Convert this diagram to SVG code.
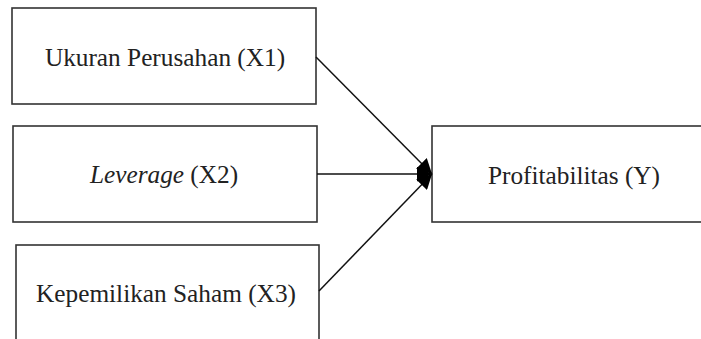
<svg xmlns="http://www.w3.org/2000/svg" width="701" height="339" viewBox="0 0 701 339">
<style>
.box{fill:#fff;stroke:#333;stroke-width:1.6}
.t{font-size:25.3px;fill:#222;text-anchor:middle}
.c{stroke:#111;stroke-width:1.5;fill:none}
</style>
<defs>
<marker id="ah" viewBox="0 0 10 10" refX="10" refY="5" markerWidth="15" markerHeight="15" markerUnits="userSpaceOnUse" orient="auto">
<path d="M0,0 L10,5 L0,10 Z" fill="#000"/>
</marker>
</defs>
<rect width="701" height="339" fill="#fff"/>
<g font-family="Liberation Serif, Times New Roman, serif">
<g id="x1"><rect class="box" x="12" y="8" width="304" height="96"/><text class="t" x="165" y="66">Ukuran Perusahan (X1)</text></g>
<g id="x2"><rect class="box" x="13" y="126" width="304" height="96"/><text class="t" x="164" y="183"><tspan font-style="italic">Leverage</tspan> (X2)</text></g>
<g id="x3"><rect class="box" x="16" y="245" width="303" height="100"/><text class="t" x="166" y="302">Kepemilikan Saham (X3)</text></g>
<g id="y"><rect class="box" x="432" y="126" width="280" height="96"/><text class="t" x="574" y="184">Profitabilitas (Y)</text></g>
</g>
<g id="connectors">
<line class="c" x1="316" y1="57" x2="432" y2="174" marker-end="url(#ah)"/>
<line class="c" x1="317" y1="174" x2="432" y2="174" marker-end="url(#ah)"/>
<line class="c" x1="319" y1="291" x2="432" y2="174" marker-end="url(#ah)"/>
</g>
</svg>
